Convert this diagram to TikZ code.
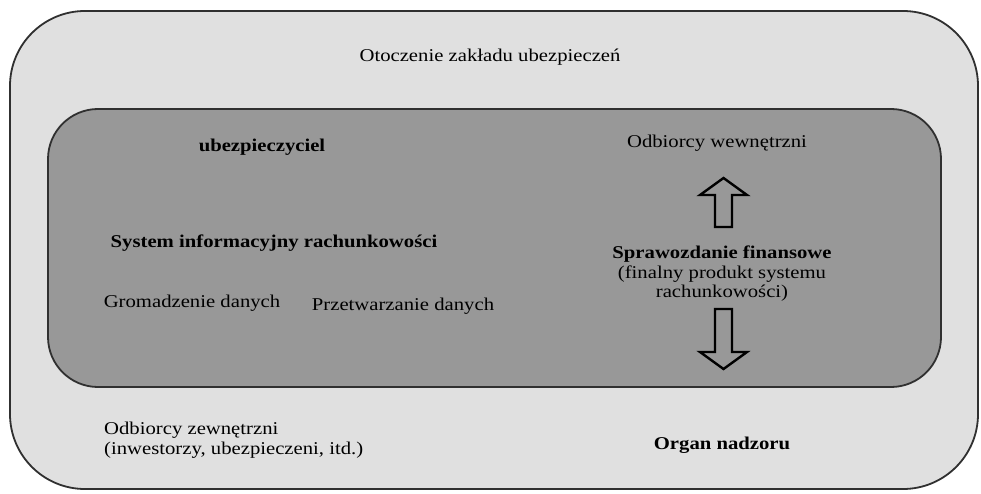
\documentclass[tikz,border=0pt]{standalone}
\usepackage{fontspec}
\setmainfont{Liberation Serif}[FakeStretch=1.15]
\begin{document}
\begin{tikzpicture}[x=1pt,y=-1pt,
  lbl/.style={inner sep=0pt, font=\fontsize{18}{19.5}\selectfont},
  blbl/.style={lbl, font=\fontsize{18}{19.5}\selectfont\bfseries},
  bigarrow/.style={draw=black, line width=2.4pt, fill=innerfill, line join=miter}]
\definecolor{outerfill}{HTML}{E0E0E0}
\definecolor{innerfill}{HTML}{989898}
\definecolor{edge}{HTML}{303030}
\useasboundingbox (0,0) rectangle (981,494);
\fill[white] (0,0) rectangle (981,494);
% outer box
\node[draw=edge, line width=1.8pt, fill=outerfill, rounded corners=75pt,
  minimum width=968pt, minimum height=478pt, inner sep=0pt] (outer) at (494,250) {};
% inner box
\node[draw=edge, line width=1.8pt, fill=innerfill, rounded corners=50pt,
  minimum width=893pt, minimum height=278pt, inner sep=0pt] (inner) at (494.5,248) {};
% texts
\node[lbl] (env) at (490,57) {Otoczenie zakładu ubezpieczeń};
\node[blbl] (ins) at (262,147) {ubezpieczyciel};
\node[lbl] (int) at (717,143) {Odbiorcy wewnętrzni};
\node[blbl] (sys) at (274,243) {System informacyjny rachunkowości};
\node[lbl] (gro) at (192,303) {Gromadzenie danych};
\node[lbl] (prz) at (403,306) {Przetwarzanie danych};
\node[lbl, align=center] (spr) at (722,274) {\bfseries Sprawozdanie finansowe\\(finalny produkt systemu\\rachunkowości)};
\node[lbl, align=left, anchor=west] (ext) at (104,440) {Odbiorcy zewnętrzni\\(inwestorzy, ubezpieczeni, itd.)};
\node[blbl] (org) at (722,445) {Organ nadzoru};
% arrows
\draw[bigarrow] (715,227) -- (715,195) -- (700,195) -- (723.5,178) -- (747,195) -- (732,195) -- (732,227) -- cycle;
\draw[bigarrow] (715,309) -- (715,352) -- (700,352) -- (723.5,369) -- (747,352) -- (732,352) -- (732,309) -- cycle;
\end{tikzpicture}
\end{document}
